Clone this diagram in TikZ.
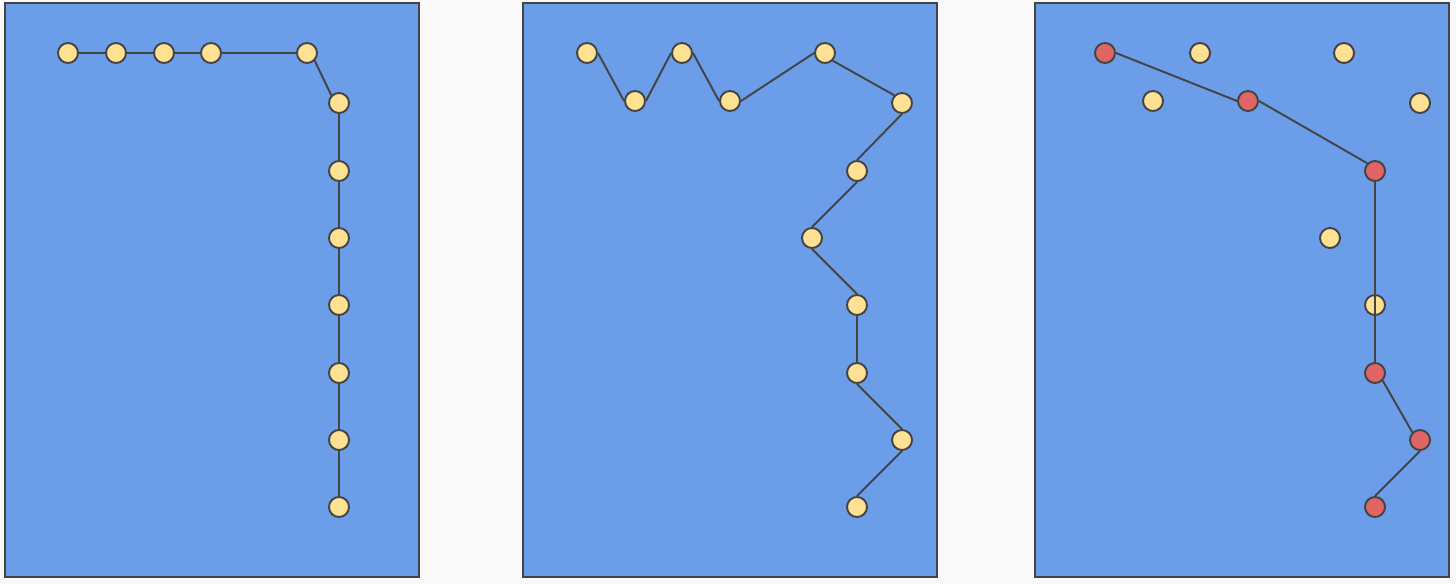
\documentclass[tikz,border=0pt]{standalone}
\definecolor{pagebg}{HTML}{F9F9F9}
\definecolor{panelblue}{HTML}{6B9DE8}
\definecolor{dotyellow}{HTML}{FFE194}
\definecolor{dotred}{HTML}{E06666}
\definecolor{ink}{HTML}{444444}
\tikzset{
  panel/.style={fill=panelblue,draw=ink,line width=1.1pt},
  dot/.style={circle,draw=ink,line width=1.1pt,fill=dotyellow,inner sep=0pt,minimum size=0.4cm},
  hit/.style={dot,fill=dotred},
  link/.style={draw=ink,line width=1.1pt}
}
\begin{document}
\begin{tikzpicture}[x=0.02cm,y=-0.02cm]
\fill[pagebg] (0,0) rectangle (1456,584);
\draw[panel] (5,3) rectangle (419,577);
\draw[panel] (523,3) rectangle (937,577);
\draw[panel] (1035,3) rectangle (1449,577);
% left panel
\node[dot] (a1) at (68,53) {};
\node[dot] (a2) at (116,53) {};
\node[dot] (a3) at (164,53) {};
\node[dot] (a4) at (211,53) {};
\node[dot] (a5) at (307,53) {};
\node[dot] (a6) at (339,103) {};
\node[dot] (a7) at (339,171) {};
\node[dot] (a8) at (339,238) {};
\node[dot] (a9) at (339,305) {};
\node[dot] (a10) at (339,373) {};
\node[dot] (a11) at (339,440) {};
\node[dot] (a12) at (339,507) {};
% middle panel
\node[dot] (b1) at (587,53) {};
\node[dot] (b2) at (635,101) {};
\node[dot] (b3) at (682,53) {};
\node[dot] (b4) at (730,101) {};
\node[dot] (b5) at (825,53) {};
\node[dot] (b6) at (902,103) {};
\node[dot] (b7) at (857,171) {};
\node[dot] (b8) at (812,238) {};
\node[dot] (b9) at (857,305) {};
\node[dot] (b10) at (857,373) {};
\node[dot] (b11) at (902,440) {};
\node[dot] (b12) at (857,507) {};
% right panel
\node[hit] (c1) at (1105,53) {};
\node[dot] (c2) at (1200,53) {};
\node[dot] (c3) at (1344,53) {};
\node[dot] (c4) at (1153,101) {};
\node[hit] (c5) at (1248,101) {};
\node[dot] (c6) at (1420,103) {};
\node[hit] (c7) at (1375,171) {};
\node[dot] (c8) at (1330,238) {};
\node[dot] (c9) at (1375,305) {};
\node[hit] (c10) at (1375,373) {};
\node[hit] (c11) at (1420,440) {};
\node[hit] (c12) at (1375,507) {};
% paths
\draw[link] (a1.east) -- (a2.west);
\draw[link] (a2.east) -- (a3.west);
\draw[link] (a3.east) -- (a4.west);
\draw[link] (a4.east) -- (a5.west);
\draw[link] (a5.south east) -- (a6.north west);
\draw[link] (a6.south) -- (a7.north);
\draw[link] (a7.south) -- (a8.north);
\draw[link] (a8.south) -- (a9.north);
\draw[link] (a9.south) -- (a10.north);
\draw[link] (a10.south) -- (a11.north);
\draw[link] (a11.south) -- (a12.north);
\draw[link] (b1.east) -- (b2.west);
\draw[link] (b2.east) -- (b3.west);
\draw[link] (b3.east) -- (b4.west);
\draw[link] (b4.east) -- (b5.west);
\draw[link] (b5.south east) -- (b6.north west);
\draw[link] (b6.south) -- (b7.north);
\draw[link] (b7.south) -- (b8.north);
\draw[link] (b8.south) -- (b9.north);
\draw[link] (b9.south) -- (b10.north);
\draw[link] (b10.south) -- (b11.north);
\draw[link] (b11.south) -- (b12.north);
\draw[link] (c1.east) -- (c5.west);
\draw[link] (c5.east) -- (c7.north west);
\draw[link] (c7.south) -- (c10.north);
\draw[link] (c10.south east) -- (c11.north west);
\draw[link] (c11.south) -- (c12.north);
\end{tikzpicture}
\end{document}
